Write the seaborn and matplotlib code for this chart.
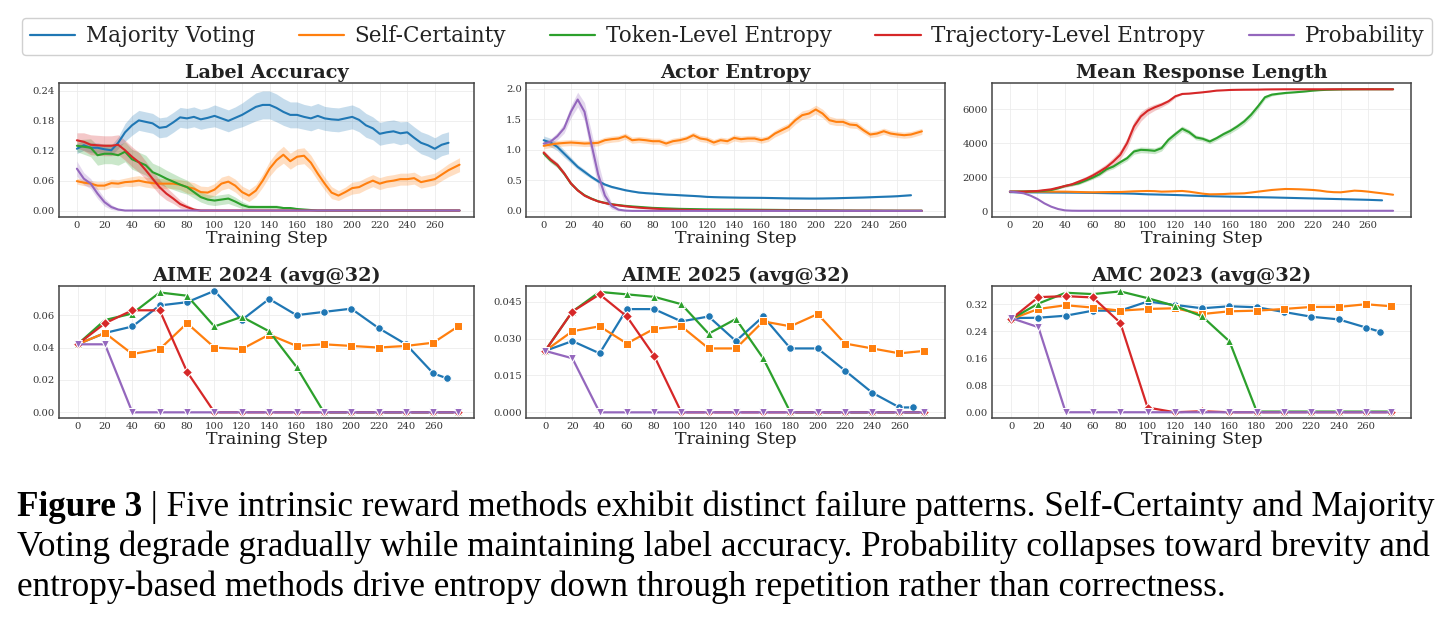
import numpy as np
import pandas as pd
import matplotlib
matplotlib.use("Agg")
import matplotlib.pyplot as plt
import seaborn as sns
from matplotlib.ticker import FormatStrFormatter, FixedLocator
from matplotlib.lines import Line2D

sns.set_theme(style="whitegrid")
plt.rcParams['font.family'] = ['DejaVu Serif']

# ---------------- data ----------------
METHODS = ["Majority Voting", "Self-Certainty", "Token-Level Entropy",
           "Trajectory-Level Entropy", "Probability"]
COLORS = ["#1f77b4", "#ff7f0e", "#2ca02c", "#d62728", "#9467bd"]
MARKERS = ["o", "s", "^", "D", "v"]

STEP_MV = list(range(0, 275, 5))              # 0..270
STEP_OTHER = list(range(0, 275, 5)) + [278]   # 0..270, 278
EVAL_MV = list(range(0, 261, 20)) + [270]
EVAL_OTHER = list(range(0, 261, 20)) + [278]
XTICKS = list(range(0, 261, 20))

# Label Accuracy
la_mv = [0.124, 0.131, 0.126, 0.126, 0.123, 0.121, 0.136, 0.157, 0.171, 0.181,
         0.178, 0.175, 0.166, 0.168, 0.177, 0.187, 0.185, 0.188, 0.183, 0.186,
         0.190, 0.185, 0.180, 0.186, 0.192, 0.200, 0.208, 0.212, 0.212, 0.206,
         0.198, 0.192, 0.192, 0.188, 0.185, 0.190, 0.185, 0.183, 0.182, 0.185,
         0.188, 0.182, 0.171, 0.165, 0.154, 0.157, 0.159, 0.155, 0.157, 0.146,
         0.136, 0.131, 0.124, 0.132, 0.136]
la_mv_band = [0.010, 0.010, 0.010, 0.010, 0.010, 0.010, 0.012, 0.018, 0.020, 0.020,
              0.020, 0.020, 0.020, 0.020, 0.020, 0.020, 0.020, 0.020, 0.020, 0.020,
              0.022, 0.022, 0.022, 0.022, 0.024, 0.026, 0.028, 0.028, 0.028, 0.028,
              0.027, 0.026, 0.026, 0.025, 0.025, 0.025, 0.024, 0.024, 0.024, 0.024,
              0.024, 0.024, 0.024, 0.023, 0.023, 0.023, 0.023, 0.023, 0.022, 0.022,
              0.022, 0.022, 0.022, 0.022, 0.022]
la_sc = [0.059, 0.056, 0.054, 0.050, 0.050, 0.055, 0.054, 0.057, 0.058, 0.060,
         0.057, 0.055, 0.054, 0.054, 0.054, 0.052, 0.047, 0.044, 0.037, 0.036,
         0.042, 0.054, 0.058, 0.050, 0.037, 0.030, 0.040, 0.060, 0.084, 0.101,
         0.112, 0.099, 0.108, 0.110, 0.096, 0.074, 0.054, 0.036, 0.030, 0.037,
         0.045, 0.047, 0.054, 0.060, 0.054, 0.058, 0.060, 0.063, 0.063, 0.065,
         0.057, 0.060, 0.063, 0.072, 0.081, 0.092]
la_sc_band = [0.006, 0.006, 0.006, 0.008, 0.008, 0.008, 0.008, 0.008, 0.010, 0.010,
              0.010, 0.010, 0.010, 0.010, 0.010, 0.010, 0.012, 0.012, 0.012, 0.012,
              0.012, 0.013, 0.013, 0.013, 0.012, 0.012, 0.012, 0.013, 0.015, 0.016,
              0.017, 0.016, 0.016, 0.016, 0.015, 0.014, 0.013, 0.012, 0.010, 0.010,
              0.012, 0.012, 0.012, 0.012, 0.012, 0.012, 0.012, 0.012, 0.012, 0.012,
              0.012, 0.012, 0.012, 0.012, 0.013, 0.014]
la_tok = [0.130, 0.128, 0.126, 0.111, 0.114, 0.114, 0.111, 0.118, 0.103, 0.097,
          0.091, 0.077, 0.071, 0.064, 0.058, 0.052, 0.047, 0.037, 0.027, 0.022,
          0.020, 0.022, 0.024, 0.018, 0.011, 0.007, 0.007, 0.007, 0.007, 0.007,
          0.005, 0.005, 0.003, 0.002, 0.001, 0.0, 0.0, 0.0, 0.0, 0.0,
          0.0, 0.0, 0.0, 0.0, 0.0, 0.0, 0.0, 0.0, 0.0, 0.0,
          0.0, 0.0, 0.0, 0.0, 0.0, 0.0]
la_tok_band = [0.012, 0.015, 0.018, 0.020, 0.020, 0.020, 0.020, 0.020, 0.020, 0.020,
               0.020, 0.018, 0.018, 0.017, 0.016, 0.015, 0.014, 0.012, 0.010, 0.010,
               0.010, 0.010, 0.010, 0.009, 0.007, 0.005, 0.004, 0.004, 0.004, 0.004,
               0.003, 0.003, 0.002, 0.002, 0.001, 0.0, 0.0, 0.0, 0.0, 0.0,
               0.0, 0.0, 0.0, 0.0, 0.0, 0.0, 0.0, 0.0, 0.0, 0.0,
               0.0, 0.0, 0.0, 0.0, 0.0, 0.0]
la_traj = [0.141, 0.138, 0.132, 0.131, 0.130, 0.130, 0.132, 0.121, 0.108, 0.097,
           0.081, 0.064, 0.047, 0.034, 0.024, 0.013, 0.007, 0.002, 0.0, 0.0,
           0.0, 0.0, 0.0, 0.0, 0.0, 0.0, 0.0, 0.0, 0.0, 0.0,
           0.0, 0.0, 0.0, 0.0, 0.0, 0.0, 0.0, 0.0, 0.0, 0.0,
           0.0, 0.0, 0.0, 0.0, 0.0, 0.0, 0.0, 0.0, 0.0, 0.0,
           0.0, 0.0, 0.0, 0.0, 0.0, 0.0]
la_traj_band = [0.015, 0.018, 0.020, 0.020, 0.020, 0.020, 0.020, 0.020, 0.020, 0.020,
                0.018, 0.016, 0.015, 0.013, 0.010, 0.008, 0.005, 0.003, 0.001, 0.0,
                0.0, 0.0, 0.0, 0.0, 0.0, 0.0, 0.0, 0.0, 0.0, 0.0,
                0.0, 0.0, 0.0, 0.0, 0.0, 0.0, 0.0, 0.0, 0.0, 0.0,
                0.0, 0.0, 0.0, 0.0, 0.0, 0.0, 0.0, 0.0, 0.0, 0.0,
                0.0, 0.0, 0.0, 0.0, 0.0, 0.0]
la_prob = [0.084, 0.064, 0.054, 0.034, 0.017, 0.007, 0.002, 0.0, 0.0, 0.0,
           0.0, 0.0, 0.0, 0.0, 0.0, 0.0, 0.0, 0.0, 0.0, 0.0,
           0.0, 0.0, 0.0, 0.0, 0.0, 0.0, 0.0, 0.0, 0.0, 0.0,
           0.0, 0.0, 0.0, 0.0, 0.0, 0.0, 0.0, 0.0, 0.0, 0.0,
           0.0, 0.0, 0.0, 0.0, 0.0, 0.0, 0.0, 0.0, 0.0, 0.0,
           0.0, 0.0, 0.0, 0.0, 0.0, 0.0]
la_prob_band = [0.015, 0.012, 0.010, 0.010, 0.008, 0.005, 0.002, 0.0, 0.0, 0.0,
                0.0, 0.0, 0.0, 0.0, 0.0, 0.0, 0.0, 0.0, 0.0, 0.0,
                0.0, 0.0, 0.0, 0.0, 0.0, 0.0, 0.0, 0.0, 0.0, 0.0,
                0.0, 0.0, 0.0, 0.0, 0.0, 0.0, 0.0, 0.0, 0.0, 0.0,
                0.0, 0.0, 0.0, 0.0, 0.0, 0.0, 0.0, 0.0, 0.0, 0.0,
                0.0, 0.0, 0.0, 0.0, 0.0, 0.0]

# Actor Entropy
ae_mv = [1.155, 1.117, 1.046, 0.937, 0.828, 0.719, 0.638, 0.556, 0.485, 0.431,
         0.392, 0.365, 0.338, 0.318, 0.300, 0.290, 0.283, 0.275, 0.267, 0.262,
         0.256, 0.250, 0.244, 0.238, 0.229, 0.225, 0.222, 0.220, 0.218, 0.216,
         0.215, 0.214, 0.213, 0.211, 0.209, 0.207, 0.205, 0.204, 0.203, 0.202,
         0.202, 0.203, 0.205, 0.207, 0.210, 0.213, 0.216, 0.219, 0.223, 0.227,
         0.231, 0.235, 0.240, 0.248, 0.256]
ae_mv_band = [0.07, 0.07, 0.06, 0.06, 0.05, 0.04, 0.04, 0.03, 0.03, 0.02,
              0.02, 0.015, 0.015, 0.01, 0.01, 0.01, 0.01, 0.01, 0.01, 0.01,
              0.01, 0.01, 0.01, 0.01, 0.01, 0.01, 0.01, 0.01, 0.01, 0.01,
              0.01, 0.01, 0.01, 0.01, 0.01, 0.01, 0.01, 0.01, 0.01, 0.01,
              0.01, 0.01, 0.01, 0.01, 0.01, 0.01, 0.01, 0.01, 0.01, 0.01,
              0.01, 0.01, 0.01, 0.01, 0.01]
ae_sc = [1.063, 1.084, 1.101, 1.110, 1.117, 1.110, 1.101, 1.105, 1.112, 1.155,
         1.172, 1.183, 1.221, 1.155, 1.166, 1.155, 1.139, 1.139, 1.101, 1.139,
         1.155, 1.183, 1.237, 1.183, 1.166, 1.117, 1.155, 1.139, 1.193, 1.172,
         1.183, 1.183, 1.155, 1.183, 1.264, 1.319, 1.373, 1.482, 1.564, 1.591,
         1.657, 1.591, 1.482, 1.455, 1.455, 1.411, 1.401, 1.319, 1.248, 1.264,
         1.302, 1.264, 1.248, 1.237, 1.248, 1.300]
ae_sc_band = [0.05, 0.05, 0.05, 0.05, 0.05, 0.05, 0.05, 0.05, 0.05, 0.05,
              0.05, 0.05, 0.05, 0.05, 0.05, 0.05, 0.05, 0.05, 0.05, 0.05,
              0.05, 0.05, 0.05, 0.05, 0.05, 0.05, 0.05, 0.05, 0.05, 0.05,
              0.05, 0.05, 0.05, 0.05, 0.055, 0.06, 0.06, 0.065, 0.07, 0.07,
              0.07, 0.07, 0.065, 0.06, 0.06, 0.055, 0.055, 0.05, 0.05, 0.05,
              0.05, 0.05, 0.05, 0.05, 0.05, 0.05]
ae_tok = [0.937, 0.828, 0.747, 0.610, 0.447, 0.338, 0.256, 0.202, 0.158, 0.131,
          0.109, 0.095, 0.082, 0.073, 0.065, 0.057, 0.049, 0.045, 0.041, 0.037,
          0.033, 0.031, 0.029, 0.027, 0.025, 0.024, 0.023, 0.022, 0.022, 0.021,
          0.020, 0.019, 0.018, 0.017, 0.016, 0.015, 0.014, 0.013, 0.012, 0.011,
          0.010, 0.009, 0.008, 0.007, 0.006, 0.006, 0.005, 0.005, 0.005, 0.004,
          0.004, 0.004, 0.003, 0.003, 0.003, 0.003]
ae_traj = [0.954, 0.840, 0.752, 0.615, 0.450, 0.335, 0.250, 0.198, 0.155, 0.128,
           0.105, 0.090, 0.075, 0.063, 0.053, 0.045, 0.038, 0.032, 0.027, 0.022,
           0.018, 0.016, 0.015, 0.014, 0.013, 0.012, 0.011, 0.011, 0.010, 0.010,
           0.009, 0.009, 0.008, 0.008, 0.007, 0.007, 0.006, 0.006, 0.005, 0.005,
           0.005, 0.004, 0.004, 0.004, 0.003, 0.003, 0.003, 0.003, 0.003, 0.003,
           0.002, 0.002, 0.002, 0.002, 0.002, 0.002]
ae_ent_band = [0.04, 0.04, 0.04, 0.035, 0.03, 0.02, 0.02, 0.015, 0.01, 0.01,
               0.008, 0.006, 0.005, 0.005, 0.005, 0.004, 0.004, 0.004, 0.003, 0.003,
               0.003, 0.003, 0.003, 0.003, 0.003, 0.003, 0.003, 0.003, 0.003, 0.003,
               0.002, 0.002, 0.002, 0.002, 0.002, 0.002, 0.002, 0.002, 0.002, 0.002,
               0.002, 0.002, 0.002, 0.002, 0.002, 0.002, 0.002, 0.002, 0.002, 0.002,
               0.002, 0.002, 0.002, 0.002, 0.002, 0.002]
ae_prob = [1.100, 1.130, 1.220, 1.350, 1.620, 1.820, 1.620, 1.100, 0.600, 0.250,
           0.080, 0.020, 0.005, 0.0, 0.0, 0.0, 0.0, 0.0, 0.0, 0.0,
           0.0, 0.0, 0.0, 0.0, 0.0, 0.0, 0.0, 0.0, 0.0, 0.0,
           0.0, 0.0, 0.0, 0.0, 0.0, 0.0, 0.0, 0.0, 0.0, 0.0,
           0.0, 0.0, 0.0, 0.0, 0.0, 0.0, 0.0, 0.0, 0.0, 0.0,
           0.0, 0.0, 0.0, 0.0, 0.0, 0.0]
ae_prob_band = [0.04, 0.05, 0.06, 0.08, 0.10, 0.12, 0.15, 0.20, 0.20, 0.12,
                0.05, 0.02, 0.01, 0.0, 0.0, 0.0, 0.0, 0.0, 0.0, 0.0,
                0.0, 0.0, 0.0, 0.0, 0.0, 0.0, 0.0, 0.0, 0.0, 0.0,
                0.0, 0.0, 0.0, 0.0, 0.0, 0.0, 0.0, 0.0, 0.0, 0.0,
                0.0, 0.0, 0.0, 0.0, 0.0, 0.0, 0.0, 0.0, 0.0, 0.0,
                0.0, 0.0, 0.0, 0.0, 0.0, 0.0]

# Mean Response Length
rl_mv = [1110, 1105, 1100, 1098, 1095, 1093, 1090, 1088, 1085, 1082,
         1078, 1072, 1065, 1058, 1050, 1043, 1040, 1030, 1020, 1000,
         984, 975, 965, 955, 944, 930, 915, 900, 885, 875,
         865, 855, 846, 838, 830, 822, 815, 808, 800, 790,
         780, 770, 760, 750, 740, 730, 720, 710, 700, 690,
         680, 670, 660, 645, 630]
rl_sc = [1141, 1141, 1141, 1141, 1141, 1141, 1141, 1141, 1141, 1130,
         1120, 1110, 1102, 1110, 1115, 1120, 1121, 1140, 1160, 1170,
         1180, 1170, 1141, 1150, 1165, 1180, 1140, 1082, 1020, 984,
         990, 1000, 1023, 1030, 1043, 1090, 1141, 1190, 1239, 1270,
         1298, 1290, 1279, 1260, 1239, 1200, 1141, 1110, 1102, 1150,
         1200, 1180, 1141, 1090, 1043, 960]
rl_tok = [1141, 1145, 1150, 1161, 1161, 1190, 1239, 1340, 1475, 1550,
          1633, 1800, 1967, 2164, 2459, 2617, 2872, 3108, 3502, 3600,
          3580, 3541, 3699, 4190, 4525, 4840, 4643, 4328, 4249, 4092,
          4289, 4525, 4722, 4977, 5272, 5666, 6158, 6689, 6846, 6900,
          6945, 6975, 7004, 7040, 7082, 7110, 7130, 7141, 7150, 7155,
          7158, 7160, 7161, 7161, 7161, 7161]
rl_tok_band = [0, 0, 0, 10, 20, 30, 40, 50, 60, 70,
               80, 90, 100, 110, 120, 130, 140, 150, 160, 170,
               170, 170, 170, 170, 170, 160, 150, 140, 130, 130,
               130, 140, 150, 160, 170, 180, 160, 120, 80, 60,
               50, 40, 30, 20, 20, 10, 10, 10, 10, 10,
               10, 10, 10, 10, 10, 10]
rl_traj = [1141, 1141, 1141, 1160, 1180, 1230, 1279, 1377, 1475, 1574,
           1731, 1889, 2085, 2321, 2577, 2912, 3305, 3994, 4977, 5568,
           5902, 6099, 6256, 6453, 6748, 6886, 6906, 6945, 6984, 7030,
           7082, 7100, 7122, 7130, 7135, 7138, 7141, 7150, 7155, 7158,
           7161, 7161, 7161, 7161, 7161, 7161, 7161, 7161, 7161, 7161,
           7161, 7161, 7161, 7161, 7161, 7161]
rl_traj_band = [0, 0, 0, 10, 20, 30, 40, 60, 80, 100,
                120, 140, 160, 180, 200, 230, 260, 300, 300, 280,
                220, 180, 150, 120, 80, 40, 20, 20, 20, 20,
                10, 10, 10, 10, 10, 10, 10, 10, 10, 10,
                0, 0, 0, 0, 0, 0, 0, 0, 0, 0,
                0, 0, 0, 0, 0, 0]
rl_prob = [1141, 1102, 1043, 905, 708, 452, 256, 118, 39, 20,
           15, 15, 15, 15, 15, 15, 15, 15, 15, 15,
           15, 15, 15, 15, 15, 15, 15, 15, 15, 15,
           15, 15, 15, 15, 15, 15, 15, 15, 15, 15,
           15, 15, 15, 15, 15, 15, 15, 15, 15, 15,
           15, 15, 15, 15, 15, 15]

# AIME 2024 (avg@32)
a24_mv = [0.042, 0.049, 0.053, 0.066, 0.068, 0.075, 0.057, 0.070, 0.060, 0.062, 0.064, 0.052, 0.042, 0.024, 0.021]
a24_sc = [0.042, 0.049, 0.036, 0.039, 0.055, 0.040, 0.039, 0.048, 0.041, 0.042, 0.041, 0.040, 0.041, 0.043, 0.053]
a24_tok = [0.042, 0.057, 0.061, 0.074, 0.072, 0.053, 0.059, 0.050, 0.028, 0.0, 0.0, 0.0, 0.0, 0.0, 0.0]
a24_traj = [0.042, 0.055, 0.063, 0.063, 0.025, 0.0, 0.0, 0.0, 0.0, 0.0, 0.0, 0.0, 0.0, 0.0, 0.0]
a24_prob = [0.042, 0.042, 0.0, 0.0, 0.0, 0.0, 0.0, 0.0, 0.0, 0.0, 0.0, 0.0, 0.0, 0.0, 0.0]

# AIME 2025 (avg@32)
a25_mv = [0.025, 0.029, 0.024, 0.042, 0.042, 0.037, 0.039, 0.029, 0.039, 0.026, 0.026, 0.017, 0.008, 0.002, 0.002]
a25_sc = [0.025, 0.033, 0.035, 0.028, 0.034, 0.035, 0.026, 0.026, 0.037, 0.035, 0.040, 0.028, 0.026, 0.024, 0.025]
a25_tok = [0.025, 0.041, 0.049, 0.048, 0.047, 0.044, 0.032, 0.038, 0.022, 0.0, 0.0, 0.0, 0.0, 0.0, 0.0]
a25_traj = [0.025, 0.041, 0.048, 0.039, 0.023, 0.0, 0.0, 0.0, 0.0, 0.0, 0.0, 0.0, 0.0, 0.0, 0.0]
a25_prob = [0.025, 0.022, 0.0, 0.0, 0.0, 0.0, 0.0, 0.0, 0.0, 0.0, 0.0, 0.0, 0.0, 0.0, 0.0]

# AMC 2023 (avg@32)
amc_mv = [0.279, 0.280, 0.286, 0.301, 0.301, 0.328, 0.318, 0.308, 0.314, 0.311, 0.297, 0.283, 0.275, 0.251, 0.239]
amc_sc = [0.276, 0.306, 0.317, 0.310, 0.301, 0.306, 0.308, 0.291, 0.299, 0.301, 0.306, 0.312, 0.312, 0.320, 0.314]
amc_tok = [0.276, 0.322, 0.354, 0.350, 0.358, 0.338, 0.315, 0.284, 0.210, 0.002, 0.002, 0.002, 0.002, 0.002, 0.002]
amc_traj = [0.276, 0.341, 0.344, 0.340, 0.265, 0.014, 0.0, 0.003, 0.0, 0.0, 0.0, 0.0, 0.0, 0.0, 0.0]
amc_prob = [0.279, 0.252, 0.0, 0.0, 0.0, 0.0, 0.0, 0.0, 0.0, 0.0, 0.0, 0.0, 0.0, 0.0, 0.0]

TITLES = ["Label Accuracy", "Actor Entropy", "Mean Response Length",
          "AIME 2024 (avg@32)", "AIME 2025 (avg@32)", "AMC 2023 (avg@32)"]

CAPTION_BOLD = "Figure 3"
CAPTION_LINES = [
    " | Five intrinsic reward methods exhibit distinct failure patterns. Self-Certainty and Majority",
    "Voting degrade gradually while maintaining label accuracy. Probability collapses toward brevity and",
    "entropy-based methods drive entropy down through repetition rather than correctness.",
]

# ---------------- figure ----------------
W, H = 1444, 618
fig = plt.figure(figsize=(W / 100, H / 100), dpi=100)
fig.patch.set_facecolor("white")


def px_axes(x0, y0, x1, y1):
    return fig.add_axes([x0 / W, 1 - y1 / H, (x1 - x0) / W, (y1 - y0) / H])


axes = [
    px_axes(59, 83, 474, 217), px_axes(526, 83, 945, 217), px_axes(992, 83, 1411, 217),
    px_axes(59, 286, 474, 418), px_axes(526, 286, 945, 418), px_axes(992, 286, 1411, 418),
]


def band_series(ax, steps, vals, band, color):
    df = pd.DataFrame({"step": steps, "value": vals})
    sns.lineplot(data=df, x="step", y="value", color=color, lw=1.5, ax=ax,
                 legend=False, errorbar=None)
    v = np.asarray(vals, float)
    b = np.asarray(band, float)
    ax.fill_between(steps, v - b, v + b, color=color, alpha=0.25, lw=0)


def plain_series(ax, steps, vals, color):
    df = pd.DataFrame({"step": steps, "value": vals})
    sns.lineplot(data=df, x="step", y="value", color=color, lw=1.5, ax=ax,
                 legend=False, errorbar=None)


def marker_series(ax, steps, vals, color, marker):
    df = pd.DataFrame({"step": steps, "value": vals})
    sns.lineplot(data=df, x="step", y="value", color=color, lw=1.6, ax=ax,
                 marker=marker, markersize=5.5, legend=False, errorbar=None)


# Label accuracy
ax = axes[0]
band_series(ax, STEP_MV, la_mv, la_mv_band, COLORS[0])
band_series(ax, STEP_OTHER, la_sc, la_sc_band, COLORS[1])
band_series(ax, STEP_OTHER, la_tok, la_tok_band, COLORS[2])
band_series(ax, STEP_OTHER, la_traj, la_traj_band, COLORS[3])
band_series(ax, STEP_OTHER, la_prob, la_prob_band, COLORS[4])
ax.set_ylim(-0.013, 0.256)
ax.yaxis.set_major_locator(FixedLocator([0.0, 0.06, 0.12, 0.18, 0.24]))
ax.yaxis.set_major_formatter(FormatStrFormatter("%.2f"))
ax.set_xlim(-13, 288.5)

# Actor entropy
ax = axes[1]
band_series(ax, STEP_MV, ae_mv, ae_mv_band, COLORS[0])
band_series(ax, STEP_OTHER, ae_sc, ae_sc_band, COLORS[1])
band_series(ax, STEP_OTHER, ae_tok, ae_ent_band, COLORS[2])
band_series(ax, STEP_OTHER, ae_traj, ae_ent_band, COLORS[3])
band_series(ax, STEP_OTHER, ae_prob, ae_prob_band, COLORS[4])
ax.set_ylim(-0.1, 2.09)
ax.yaxis.set_major_locator(FixedLocator([0.0, 0.5, 1.0, 1.5, 2.0]))
ax.yaxis.set_major_formatter(FormatStrFormatter("%.1f"))
ax.set_xlim(-13, 295)

# Mean response length
ax = axes[2]
plain_series(ax, STEP_MV, rl_mv, COLORS[0])
plain_series(ax, STEP_OTHER, rl_sc, COLORS[1])
band_series(ax, STEP_OTHER, rl_tok, rl_tok_band, COLORS[2])
band_series(ax, STEP_OTHER, rl_traj, rl_traj_band, COLORS[3])
plain_series(ax, STEP_OTHER, rl_prob, COLORS[4])
ax.set_ylim(-350, 7530)
ax.yaxis.set_major_locator(FixedLocator([0, 2000, 4000, 6000]))
ax.yaxis.set_major_formatter(FormatStrFormatter("%d"))
ax.set_xlim(-13, 291)

# Eval panels
eval_sets = [
    (axes[3], [a24_mv, a24_sc, a24_tok, a24_traj, a24_prob], (-0.0035, 0.078),
     [0.0, 0.02, 0.04, 0.06], "%.2f", (-13.6, 289.7)),
    (axes[4], [a25_mv, a25_sc, a25_tok, a25_traj, a25_prob], (-0.0023, 0.0514),
     [0.0, 0.015, 0.03, 0.045], "%.3f", (-14, 293.4)),
    (axes[5], [amc_mv, amc_sc, amc_tok, amc_traj, amc_prob], (-0.017, 0.374),
     [0.0, 0.08, 0.16, 0.24, 0.32], "%.2f", (-14, 293)),
]
for ax, series, ylim, yt, fmt, xlim in eval_sets:
    for i, vals in enumerate(series):
        steps = EVAL_MV if i == 0 else EVAL_OTHER
        marker_series(ax, steps, vals, COLORS[i], MARKERS[i])
    ax.set_ylim(*ylim)
    ax.yaxis.set_major_locator(FixedLocator(yt))
    ax.yaxis.set_major_formatter(FormatStrFormatter(fmt))
    ax.set_xlim(*xlim)

for ax, title in zip(axes, TITLES):
    ax.set_facecolor("white")
    ax.set_title(title, fontsize=13.9, fontweight="bold", color="#222222", pad=3.5)
    ax.set_xlabel("Training Step", fontsize=12.6, color="#222222", labelpad=0)
    ax.set_ylabel("")
    ax.xaxis.set_major_locator(FixedLocator(XTICKS))
    ax.tick_params(axis="both", labelsize=7.2, labelcolor="#333333", length=0, pad=3)
    ax.grid(True, color="#ececec", lw=0.6)
    for sp in ax.spines.values():
        sp.set_visible(True)
        sp.set_color("#444444")
        sp.set_linewidth(1.1)

# Legend
handles = [Line2D([0], [0], color=c, lw=1.6) for c in COLORS]
fig.legend(handles, METHODS, loc="lower left", ncol=5, mode="expand",
           bbox_to_anchor=(22 / W, 1 - 55 / H, 1410 / W, 38 / H),
           fontsize=15.5, frameon=True, fancybox=True, edgecolor="#d0d0d0",
           framealpha=1.0, borderaxespad=0.0, handlelength=2.1,
           handletextpad=0.5, borderpad=0.35, labelcolor="#222222")

# Caption
renderer = fig.canvas.get_renderer()
cap_font = ["Liberation Serif", "DejaVu Serif"]
fs = 22.0
x0 = 17 / W
baselines = [516, 556, 596]
tb = fig.text(x0, 1 - baselines[0] / H, CAPTION_BOLD, fontsize=fs, fontweight="bold",
              family=cap_font, va="baseline", ha="left", color="black")
t1 = fig.text(x0, 1 - baselines[0] / H, CAPTION_LINES[0], fontsize=fs,
              family=cap_font, va="baseline", ha="left", color="black")
total = tb.get_window_extent(renderer).width + t1.get_window_extent(renderer).width
fs = fs * 1413.0 / total
tb.set_fontsize(fs)
t1.set_fontsize(fs)
wb = tb.get_window_extent(renderer).width
t1.set_x(x0 + wb / W)
for line, bl in zip(CAPTION_LINES[1:], baselines[1:]):
    fig.text(x0, 1 - bl / H, line, fontsize=fs, family=cap_font, va="baseline",
             ha="left", color="black")

fig.savefig("out.png", dpi=100, facecolor="white")
